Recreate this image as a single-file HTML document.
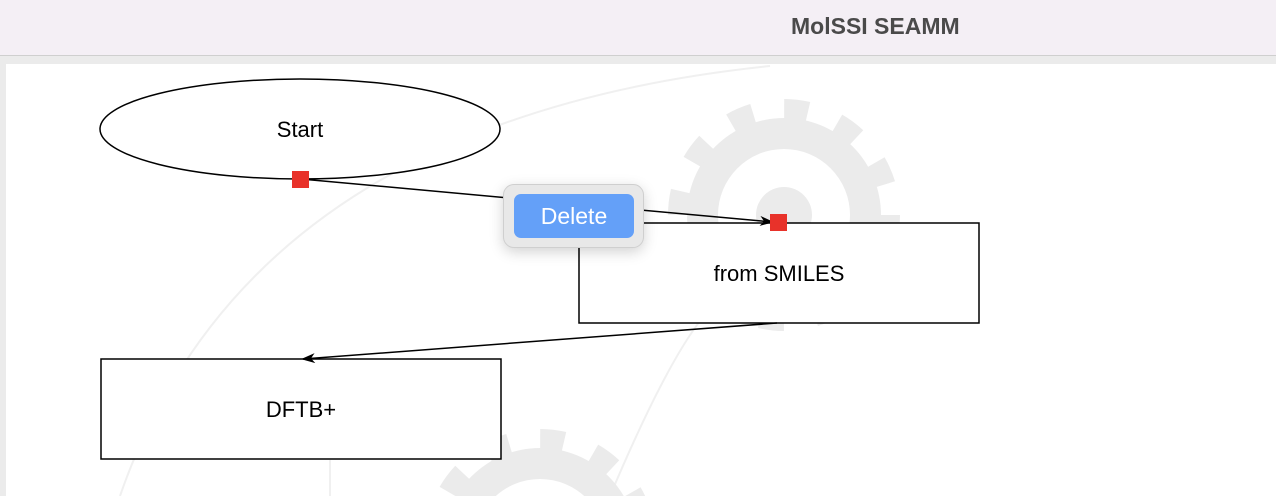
<!DOCTYPE html>
<html><head><style>
html,body{margin:0;width:1276px;height:496px;overflow:hidden}
body{background:#ebebeb;font-family:"Liberation Sans",sans-serif;position:relative}
.hdr{position:absolute;left:0;top:0;width:1276px;height:55px;background:#f4eff5;border-bottom:1px solid #cfcfcf}
.hdr span{position:absolute;left:791px;top:13px;font-weight:bold;font-size:23px;color:#4a4a4a}
.cv{position:absolute;left:6px;top:64px;width:1270px;height:432px;background:#fff}
svg{position:absolute;left:0;top:0;overflow:hidden;display:block}
.pop{position:absolute;left:503px;top:184px;width:141px;height:64px;background:#e8e8e8;border:1px solid #cfcfcf;border-radius:11px;box-shadow:0 4px 14px rgba(0,0,0,.18);box-sizing:border-box}
.btn{position:absolute;left:10px;top:9px;width:120px;height:44px;background:#64a0f8;border-radius:7px;color:#fff;font-size:23px;line-height:44px;text-align:center}
</style></head><body>
<div class="hdr"><span>MolSSI SEAMM</span></div>
<div class="cv"></div>
<svg width="1276" height="496" viewBox="0 0 1276 496">
<defs><marker id="a" markerWidth="14" markerHeight="10" refX="12" refY="5" orient="auto" markerUnits="userSpaceOnUse"><path d="M0,0 L14,5 L0,10 L4,5z" fill="#000"/></marker>
<clipPath id="c"><rect x="6" y="64" width="1270" height="432"/></clipPath></defs>
<g clip-path="url(#c)">
<g fill="none" stroke="#f0f0f0" stroke-width="2">
<path d="M120,496 Q250,120 770,66"/>
<path d="M610,496 Q680,330 720,300"/>
<path d="M330,496 L330,460"/>
</g>
<g fill="#ebebeb" stroke="#ebebeb">
<circle cx="784" cy="215" r="97" stroke="none"/>
<circle cx="784" cy="215" r="106" fill="none" stroke-width="20" stroke-dasharray="24 31.5"/>
<circle cx="540" cy="545" r="97" stroke="none"/>
<circle cx="540" cy="545" r="106" fill="none" stroke-width="20" stroke-dasharray="24 31.5"/>
</g>
<circle cx="784" cy="215" r="66" fill="#fff"/>
<circle cx="784" cy="215" r="28" fill="#ebebeb"/>
<circle cx="540" cy="545" r="66" fill="#fff"/>
</g>
<ellipse cx="300" cy="129" rx="200" ry="50" fill="#fff" stroke="#000" stroke-width="1.5"/>
<rect x="579" y="223" width="400" height="100" fill="#fff" stroke="#000" stroke-width="1.5"/>
<rect x="101" y="359" width="400" height="100" fill="#fff" stroke="#000" stroke-width="1.5"/>
<line x1="301" y1="179" x2="772" y2="222" stroke="#000" stroke-width="1.5" marker-end="url(#a)"/>
<line x1="777" y1="323" x2="303" y2="359" stroke="#000" stroke-width="1.5" marker-end="url(#a)"/>
<rect x="292" y="171" width="17" height="17" fill="#e8322a"/>
<rect x="770" y="214" width="17" height="17" fill="#e8322a"/>
<text x="300" y="137" font-size="22" text-anchor="middle" font-family="Liberation Sans,sans-serif">Start</text>
<text x="779" y="281" font-size="22" text-anchor="middle" font-family="Liberation Sans,sans-serif">from SMILES</text>
<text x="301" y="417" font-size="22" text-anchor="middle" font-family="Liberation Sans,sans-serif">DFTB+</text>
</svg>
<div class="pop"><div class="btn">Delete</div></div>
</body></html>
